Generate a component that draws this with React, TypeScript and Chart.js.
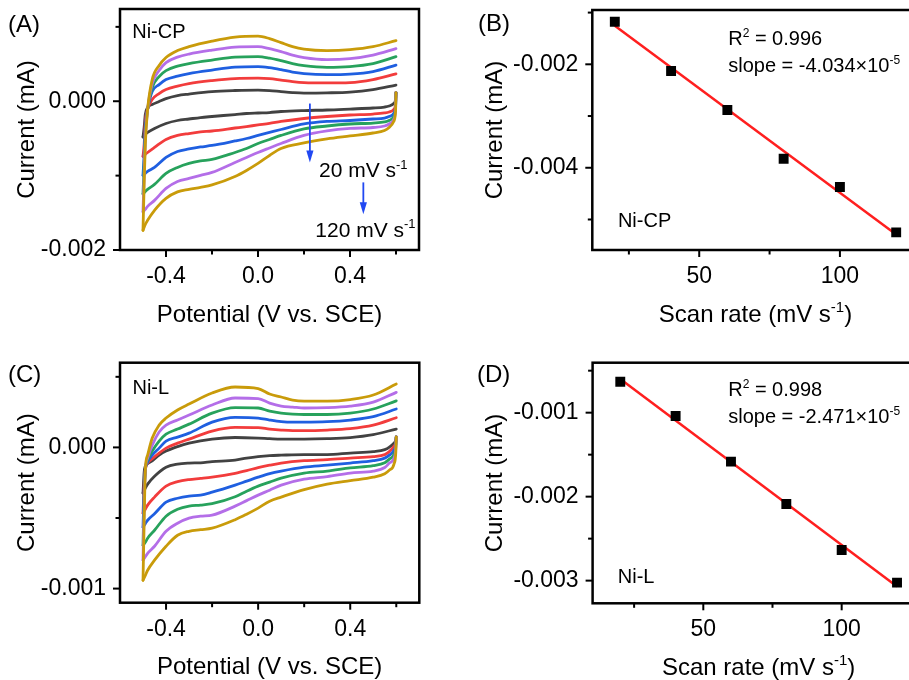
import React, { useEffect, useRef } from 'react';
import { Chart, registerables } from 'chart.js';

Chart.register(...registerables);

const FONT = "'Liberation Sans', Arial, Helvetica, sans-serif";

// ---------- Cyclic voltammograms (panels A and C) ----------
// Cathodic sweep runs from +0.6 V back to -0.5 V, anodic sweep from -0.5 V up to +0.6 V.
const cathodicPotential = [0.6, 0.598, 0.59, 0.57, 0.55, 0.5, 0.4, 0.3, 0.2, 0.1, 0.05, 0, -0.05, -0.1, -0.2, -0.25, -0.3, -0.35, -0.4, -0.45, -0.48, -0.49, -0.5];
const anodicPotential = [-0.495, -0.49, -0.48, -0.46, -0.43, -0.4, -0.35, -0.3, -0.2, -0.1, 0, 0.05, 0.1, 0.15, 0.2, 0.3, 0.4, 0.5, 0.6];

const cvScanRates = ['20', '40', '60', '80', '100', '120'];
const cvColors = ['#424242', '#f23c3c', '#1f5fe0', '#27a25c', '#b46ee8', '#c99b0a'];

// Ni-CP current (mA), one row per scan rate
const niCpCathodic = [
  [0.000117, 0.000023, -0.000031, -0.000064, -0.000078, -0.000091, -0.000105, -0.000118, -0.000125, -0.000138, -0.000152, -0.000158, -0.000165, -0.000179, -0.000205, -0.000219, -0.000239, -0.000259, -0.000299, -0.000366, -0.00042, -0.000447, -0.000481],
  [0.000117, -0.000031, -0.000111, -0.000145, -0.000158, -0.000172, -0.000185, -0.000205, -0.000232, -0.000272, -0.000299, -0.000319, -0.00034, -0.00036, -0.0004, -0.000413, -0.000434, -0.00046, -0.000514, -0.000621, -0.000689, -0.000715, -0.000742],
  [0.000117, -0.000058, -0.000165, -0.000205, -0.000226, -0.000239, -0.000259, -0.000272, -0.000306, -0.00038, -0.00042, -0.00046, -0.000501, -0.000534, -0.000595, -0.000615, -0.000642, -0.000675, -0.000756, -0.00089, -0.000944, -0.00097, -0.000997],
  [0.000117, -0.000085, -0.000205, -0.000259, -0.000279, -0.000293, -0.000306, -0.000333, -0.000373, -0.00046, -0.000514, -0.000568, -0.000635, -0.000689, -0.000783, -0.000803, -0.000836, -0.00089, -0.00097, -0.001118, -0.001185, -0.001212, -0.001246],
  [0.000117, -0.000111, -0.000246, -0.000306, -0.000333, -0.000353, -0.000366, -0.0004, -0.00046, -0.000568, -0.000628, -0.000689, -0.000756, -0.000823, -0.000957, -0.000997, -0.001038, -0.001078, -0.001172, -0.001333, -0.001413, -0.001454, -0.001487],
  [0.000117, -0.000138, -0.000272, -0.000353, -0.000393, -0.000427, -0.000467, -0.000507, -0.000561, -0.000635, -0.000729, -0.000836, -0.00093, -0.001011, -0.001125, -0.001158, -0.001185, -0.001219, -0.001306, -0.001467, -0.001601, -0.001655, -0.001736],
];
const niCpAnodic = [
  [-0.000353, -0.000179, -0.000085, -0.000044, -0.000004, 0.000036, 0.000077, 0.000097, 0.00013, 0.000144, 0.00015, 0.000144, 0.00013, 0.000117, 0.00011, 0.000113, 0.000123, 0.000157, 0.000217],
  [-0.000581, -0.000272, -0.000111, 0.000023, 0.000103, 0.000157, 0.000204, 0.000238, 0.000278, 0.000305, 0.000311, 0.000305, 0.000285, 0.000264, 0.000251, 0.000247, 0.000251, 0.000291, 0.000368],
  [-0.000715, -0.000353, -0.000111, 0.00013, 0.000224, 0.000291, 0.000338, 0.000372, 0.000419, 0.000459, 0.000466, 0.000452, 0.000425, 0.000392, 0.000372, 0.000358, 0.000365, 0.000399, 0.000486],
  [-0.00085, -0.000447, -0.000111, 0.000184, 0.000332, 0.000412, 0.000472, 0.000506, 0.000553, 0.000593, 0.0006, 0.00058, 0.000546, 0.000506, 0.000479, 0.000456, 0.000466, 0.000506, 0.0006],
  [-0.000984, -0.000514, -0.000111, 0.000238, 0.000412, 0.000519, 0.000593, 0.000634, 0.000687, 0.000728, 0.000734, 0.000707, 0.000667, 0.00062, 0.000587, 0.00056, 0.000573, 0.00062, 0.000707],
  [-0.001118, -0.000581, -0.000111, 0.000291, 0.000479, 0.000587, 0.000681, 0.000734, 0.000808, 0.000862, 0.000875, 0.000842, 0.000788, 0.000734, 0.000701, 0.000681, 0.000694, 0.000734, 0.000815],
];

// Ni-L current (mA), one row per scan rate
const niLCathodic = [
  [0.000075, 0.000052, 0.00003, 0.000002, -0.000016, -0.00003, -0.00004, -0.000051, -0.000051, -0.000055, -0.000058, -0.000065, -0.000076, -0.00009, -0.000101, -0.000109, -0.000111, -0.000118, -0.00014, -0.000204, -0.00026, -0.000289, -0.000324],
  [0.000075, 0.000038, 0.000009, -0.00003, -0.000051, -0.000065, -0.000076, -0.000087, -0.000094, -0.000111, -0.000126, -0.000143, -0.000165, -0.000184, -0.000211, -0.00022, -0.000228, -0.000243, -0.000274, -0.000352, -0.000409, -0.000438, -0.000466],
  [0.000075, 0.000023, -0.000019, -0.000055, -0.000076, -0.000094, -0.000111, -0.000126, -0.00014, -0.000168, -0.000186, -0.000211, -0.000239, -0.000267, -0.000317, -0.000338, -0.000345, -0.00036, -0.000388, -0.00047, -0.000516, -0.00054, -0.000565],
  [0.000075, 0.000009, -0.000048, -0.000083, -0.000108, -0.000129, -0.000145, -0.000168, -0.000182, -0.000218, -0.000246, -0.000274, -0.00031, -0.00035, -0.000399, -0.000409, -0.000416, -0.000438, -0.000487, -0.000587, -0.000643, -0.000672, -0.000693],
  [0.000075, -0.000005, -0.000076, -0.000111, -0.000142, -0.000168, -0.000182, -0.000207, -0.000225, -0.000267, -0.000303, -0.000338, -0.000377, -0.000416, -0.00048, -0.000487, -0.000501, -0.000537, -0.000594, -0.0007, -0.00075, -0.000774, -0.000799],
  [0.000075, -0.000033, -0.000118, -0.000161, -0.000186, -0.000211, -0.000235, -0.00026, -0.000299, -0.000352, -0.000381, -0.00043, -0.000473, -0.000512, -0.000572, -0.000583, -0.000594, -0.000622, -0.0007, -0.000799, -0.00087, -0.000906, -0.000941],
];
const niLAnodic = [
  [-0.000175, -0.000133, -0.000115, -0.000095, -0.000055, -0.000026, 0.000006, 0.00003, 0.000059, 0.00007, 0.000066, 0.000062, 0.000059, 0.000059, 0.000059, 0.000062, 0.00007, 0.000091, 0.00013],
  [-0.000267, -0.000161, -0.000111, -0.00008, -0.00004, -0.000005, 0.00003, 0.000059, 0.000116, 0.000142, 0.00014, 0.00013, 0.000123, 0.000119, 0.000119, 0.000123, 0.000133, 0.000158, 0.00021],
  [-0.000303, -0.000161, -0.000104, -0.000055, -0.000005, 0.000045, 0.000073, 0.000101, 0.000179, 0.000213, 0.000208, 0.000194, 0.000183, 0.000179, 0.000179, 0.000182, 0.000194, 0.000218, 0.000272],
  [-0.000338, -0.000161, -0.00009, -0.000026, 0.000045, 0.000094, 0.00013, 0.000165, 0.000243, 0.000282, 0.000279, 0.000257, 0.000243, 0.000236, 0.000233, 0.000233, 0.000243, 0.000272, 0.00033],
  [-0.000409, -0.000161, -0.000076, 0.000016, 0.000109, 0.000158, 0.000194, 0.000229, 0.0003, 0.00035, 0.000346, 0.000314, 0.000293, 0.000286, 0.000279, 0.000282, 0.000293, 0.000321, 0.00039],
  [-0.000516, -0.000161, -0.000055, 0.000066, 0.000158, 0.000208, 0.000265, 0.000307, 0.000385, 0.000428, 0.000417, 0.000378, 0.000357, 0.000335, 0.000328, 0.000328, 0.000339, 0.000371, 0.000449],
];

// ---------- Current vs. scan rate (panels B and D) ----------
const scanRate = [20, 40, 60, 80, 100, 120];
const niCpCurrent = [-0.001176, -0.00213, -0.002884, -0.003826, -0.004373, -0.00525];
const niLCurrent = [-0.000631, -0.00104, -0.001583, -0.002087, -0.002635, -0.003024];
const niCpSlope = -4.034e-5;
const niLSlope = -2.471e-5;
const niCpR2 = '0.996';
const niLR2 = '0.998';

// ---------- drawing helpers ----------
type Seg = { t: string; sup?: boolean };
type Note = { x: number; y: number; segs: Seg[]; size: number };
type Arrow = { x: number; from: number; to: number };
interface Deco {
  tag: string; tagLeft: number; tagMid: number;
  xTitle: Seg[]; yTitle: string; xTitleGap: number; yTitleGap: number;
  xMajor: number[]; xMinor: number[]; yMajor: number[]; yMinor: number[];
  notes: Note[]; arrows: Arrow[];
}

function drawSegs(ctx: CanvasRenderingContext2D, segs: Seg[], x: number, midY: number, size: number, align: 'left' | 'center') {
  const supSize = Math.round(size * 0.62);
  const widths = segs.map((s) => {
    ctx.font = `${s.sup ? supSize : size}px ${FONT}`;
    return ctx.measureText(s.t).width;
  });
  const total = widths.reduce((a, b) => a + b, 0);
  let cx = align === 'center' ? x - total / 2 : x;
  const base = midY + size * 0.36;
  ctx.textAlign = 'left';
  ctx.textBaseline = 'alphabetic';
  segs.forEach((s, i) => {
    ctx.font = `${s.sup ? supSize : size}px ${FONT}`;
    ctx.fillText(s.t, cx, s.sup ? base - size * 0.4 : base);
    cx += widths[i];
  });
}

const ARROW_BLUE = '#2148f2';

function decoPlugin(d: Deco) {
  return {
    id: 'panelDeco',
    afterDatasetsDraw(chart: any) {
      const { ctx, chartArea: a } = chart;
      const sx = chart.scales.x;
      const sy = chart.scales.y;
      ctx.save();
      ctx.fillStyle = '#000';
      d.notes.forEach((n) => drawSegs(ctx, n.segs, sx.getPixelForValue(n.x), sy.getPixelForValue(n.y), n.size, 'left'));

      ctx.strokeStyle = ARROW_BLUE;
      ctx.fillStyle = ARROW_BLUE;
      ctx.lineWidth = 1.8;
      d.arrows.forEach((ar) => {
        const px = sx.getPixelForValue(ar.x);
        const y0 = sy.getPixelForValue(ar.from);
        const y1 = sy.getPixelForValue(ar.to);
        ctx.beginPath();
        ctx.moveTo(px, y0);
        ctx.lineTo(px, y1 - 8);
        ctx.stroke();
        ctx.beginPath();
        ctx.moveTo(px, y1);
        ctx.lineTo(px - 3.6, y1 - 12);
        ctx.lineTo(px + 3.6, y1 - 12);
        ctx.closePath();
        ctx.fill();
      });

      // plot frame and outward tick marks
      ctx.strokeStyle = '#000';
      ctx.lineWidth = 2.5;
      ctx.strokeRect(a.left, a.top, a.right - a.left, a.bottom - a.top);
      ctx.lineWidth = 2;
      const seg = (x1: number, y1: number, x2: number, y2: number) => {
        ctx.beginPath();
        ctx.moveTo(x1, y1);
        ctx.lineTo(x2, y2);
        ctx.stroke();
      };
      d.xMajor.forEach((v) => { const p = sx.getPixelForValue(v); seg(p, a.bottom, p, a.bottom + 7); });
      d.xMinor.forEach((v) => { const p = sx.getPixelForValue(v); seg(p, a.bottom, p, a.bottom + 4.5); });
      d.yMajor.forEach((v) => { const p = sy.getPixelForValue(v); seg(a.left, p, a.left - 7, p); });
      d.yMinor.forEach((v) => { const p = sy.getPixelForValue(v); seg(a.left, p, a.left - 4.5, p); });

      // axis titles
      ctx.fillStyle = '#000';
      drawSegs(ctx, d.xTitle, (a.left + a.right) / 2, a.bottom + d.xTitleGap, 24, 'center');
      ctx.save();
      ctx.translate(a.left - d.yTitleGap, (a.top + a.bottom) / 2);
      ctx.rotate(-Math.PI / 2);
      drawSegs(ctx, [{ t: d.yTitle }], 0, 0, 24, 'center');
      ctx.restore();

      // panel tag
      drawSegs(ctx, [{ t: d.tag }], d.tagLeft, d.tagMid, 24, 'left');
      ctx.restore();
    },
  };
}

interface PanelSpec {
  w: number; h: number;
  box: { left: number; top: number; right: number; bottom: number };
  xMin: number; xMax: number; yMin: number; yMax: number;
  xDigits: number; yDigits: number;
  datasets: any[];
  deco: Deco;
}

function noPad(s: any) {
  s.paddingTop = 0;
  s.paddingBottom = 0;
  s.paddingLeft = 0;
  s.paddingRight = 0;
}

function makeChart(canvas: HTMLCanvasElement, p: PanelSpec) {
  const tickFont = { family: FONT, size: 23 };
  return new Chart(canvas, {
    type: 'scatter',
    data: { datasets: p.datasets },
    options: {
      responsive: false,
      animation: false,
      devicePixelRatio: 1,
      events: [],
      layout: { padding: { left: 0, top: p.box.top, right: p.w - p.box.right, bottom: 0 } },
      plugins: { legend: { display: false }, tooltip: { enabled: false } },
      scales: {
        x: {
          type: 'linear',
          min: p.xMin,
          max: p.xMax,
          afterBuildTicks: (s: any) => { s.ticks = p.deco.xMajor.map((v) => ({ value: v })); },
          afterFit: (s: any) => { s.height = p.h - p.box.bottom; noPad(s); },
          grid: { display: false, drawTicks: false },
          border: { display: false },
          ticks: {
            autoSkip: false, maxRotation: 0, padding: 13, color: '#000', font: tickFont,
            callback: (v: any) => Number(v).toFixed(p.xDigits),
          },
        },
        y: {
          type: 'linear',
          min: p.yMin,
          max: p.yMax,
          afterBuildTicks: (s: any) => { s.ticks = p.deco.yMajor.map((v) => ({ value: v })); },
          afterFit: (s: any) => { s.width = p.box.left; noPad(s); },
          grid: { display: false, drawTicks: false },
          border: { display: false },
          ticks: {
            autoSkip: false, padding: 14, color: '#000', font: tickFont,
            callback: (v: any) => Number(v).toFixed(p.yDigits),
          },
        },
      },
    } as any,
    plugins: [decoPlugin(p.deco)],
  });
}

// Each voltammogram is drawn as two smooth sweeps; the anodic sweep starts
// from the last cathodic point so the loop stays joined at -0.5 V.
function cvDatasets(cathodic: number[][], anodic: number[][]) {
  const out: any[] = [];
  cvColors.forEach((color, i) => {
    const back = cathodicPotential.map((x, j) => ({ x, y: cathodic[i][j] }));
    const fwd = [back[back.length - 1], ...anodicPotential.map((x, j) => ({ x, y: anodic[i][j] }))];
    const style = {
      showLine: true,
      borderColor: color,
      borderWidth: 2.8,
      pointRadius: 0,
      cubicInterpolationMode: 'monotone',
      fill: false,
      borderCapStyle: 'round',
      borderJoinStyle: 'round',
    };
    out.push({ label: `${cvScanRates[i]} mV/s cathodic`, data: back, ...style });
    out.push({ label: `${cvScanRates[i]} mV/s anodic`, data: fwd, ...style });
  });
  return out.reverse();
}

const mean = (v: number[]) => v.reduce((a, b) => a + b, 0) / v.length;

function fitDatasets(rates: number[], currents: number[], slope: number) {
  const mx = mean(rates);
  const my = mean(currents);
  const ends = [rates[0], rates[rates.length - 1]];
  return [
    {
      label: 'measured',
      data: rates.map((x, i) => ({ x, y: currents[i] })),
      pointStyle: 'rect',
      pointRadius: 7,
      pointBackgroundColor: '#000',
      pointBorderColor: '#000',
      pointBorderWidth: 0,
      showLine: false,
    },
    {
      label: 'linear fit',
      data: ends.map((x) => ({ x, y: my + slope * (x - mx) })),
      showLine: true,
      borderColor: '#ff1f1f',
      borderWidth: 2.5,
      pointRadius: 0,
    },
  ];
}

const slopeSegs = (slope: number): Seg[] => [
  { t: `slope = ${(slope / 1e-5).toFixed(3)}\u00d710` },
  { t: '-5', sup: true },
];

const cvXTitle: Seg[] = [{ t: 'Potential (V vs. SCE)' }];
const rateXTitle: Seg[] = [{ t: 'Scan rate (mV s' }, { t: '-1', sup: true }, { t: ')' }];

const panelA: PanelSpec = {
  w: 455, h: 340,
  box: { left: 120, top: 9, right: 419, bottom: 250 },
  xMin: -0.6, xMax: 0.7, yMin: -0.002, yMax: 0.00124,
  xDigits: 1, yDigits: 3,
  datasets: cvDatasets(niCpCathodic, niCpAnodic),
  deco: {
    tag: '(A)', tagLeft: 8, tagMid: 23,
    xTitle: cvXTitle, yTitle: 'Current (mA)', xTitleGap: 63, yTitleGap: 95,
    xMajor: [-0.4, 0, 0.4], xMinor: [-0.2, 0.2, 0.6],
    yMajor: [0, -0.002], yMinor: [0.001, -0.001],
    notes: [
      { x: -0.547, y: 0.000953, segs: [{ t: 'Ni-CP' }], size: 20 },
      { x: 0.265, y: -0.000917, segs: [{ t: '20 mV s' }, { t: '-1', sup: true }], size: 21 },
      { x: 0.249, y: -0.001722, segs: [{ t: '120 mV s' }, { t: '-1', sup: true }], size: 21 },
    ],
    arrows: [
      { x: 0.2256, from: -0.000031, to: -0.000823 },
      { x: 0.458, from: -0.001091, to: -0.001521 },
    ],
  },
};

const panelB: PanelSpec = {
  w: 490, h: 340,
  box: { left: 137.3, top: 10, right: 463.7, bottom: 250 },
  xMin: 12, xMax: 128, yMin: -0.00559, yMax: -0.00095,
  xDigits: 0, yDigits: 3,
  datasets: fitDatasets(scanRate, niCpCurrent, niCpSlope),
  deco: {
    tag: '(B)', tagLeft: 23, tagMid: 22,
    xTitle: rateXTitle, yTitle: 'Current (mA)', xTitleGap: 63, yTitleGap: 99,
    xMajor: [50, 100], xMinor: [25, 75],
    yMajor: [-0.002, -0.004], yMinor: [-0.001, -0.003, -0.005],
    notes: [
      { x: 60.3, y: -0.001486, segs: [{ t: 'R' }, { t: '2', sup: true }, { t: ` = ${niCpR2}` }], size: 20 },
      { x: 60.3, y: -0.002014, segs: slopeSegs(niCpSlope), size: 20 },
      { x: 21.1, y: -0.005012, segs: [{ t: 'Ni-CP' }], size: 20 },
    ],
    arrows: [],
  },
};

const panelC: PanelSpec = {
  w: 455, h: 340,
  box: { left: 120, top: 22.7, right: 419.3, bottom: 262.7 },
  xMin: -0.6, xMax: 0.7, yMin: -0.0011, yMax: 0.0006,
  xDigits: 1, yDigits: 3,
  datasets: cvDatasets(niLCathodic, niLAnodic),
  deco: {
    tag: '(C)', tagLeft: 8, tagMid: 33,
    xTitle: cvXTitle, yTitle: 'Current (mA)', xTitleGap: 63, yTitleGap: 95,
    xMajor: [-0.4, 0, 0.4], xMinor: [-0.2, 0.2, 0.6],
    yMajor: [0, -0.001], yMinor: [0.0005, -0.0005],
    notes: [{ x: -0.546, y: 0.00043, segs: [{ t: 'Ni-L' }], size: 20 }],
    arrows: [],
  },
};

const panelD: PanelSpec = {
  w: 490, h: 340,
  box: { left: 137.6, top: 22.7, right: 469.7, bottom: 263.3 },
  xMin: 10, xMax: 130, yMin: -0.00327, yMax: -0.000405,
  xDigits: 0, yDigits: 3,
  datasets: fitDatasets(scanRate, niLCurrent, niLSlope),
  deco: {
    tag: '(D)', tagLeft: 22, tagMid: 33,
    xTitle: rateXTitle, yTitle: 'Current (mA)', xTitleGap: 63, yTitleGap: 99,
    xMajor: [50, 100], xMinor: [25, 75],
    yMajor: [-0.001, -0.002, -0.003], yMinor: [-0.0005, -0.0015, -0.0025],
    notes: [
      { x: 59, y: -0.000721, segs: [{ t: 'R' }, { t: '2', sup: true }, { t: ` = ${niLR2}` }], size: 20 },
      { x: 59, y: -0.00104, segs: slopeSegs(niLSlope), size: 20 },
      { x: 19.1, y: -0.002944, segs: [{ t: 'Ni-L' }], size: 20 },
    ],
    arrows: [],
  },
};

const layoutSlots = [
  { spec: panelA, left: 0, top: 0 },
  { spec: panelB, left: 455, top: 0 },
  { spec: panelC, left: 0, top: 340 },
  { spec: panelD, left: 455, top: 340 },
];

export default function App() {
  const refs = [useRef<HTMLCanvasElement>(null), useRef<HTMLCanvasElement>(null), useRef<HTMLCanvasElement>(null), useRef<HTMLCanvasElement>(null)];

  useEffect(() => {
    const charts = layoutSlots.map((slot, i) => makeChart(refs[i].current as HTMLCanvasElement, slot.spec));
    return () => charts.forEach((c) => c.destroy());
  }, []);

  return (
    <div style={{ position: 'fixed', left: 0, top: 0, width: 909, height: 680, overflow: 'hidden', background: '#fff' }}>
      {layoutSlots.map((slot, i) => (
        <canvas
          key={i}
          ref={refs[i]}
          width={slot.spec.w}
          height={slot.spec.h}
          style={{ position: 'absolute', left: slot.left, top: slot.top, width: slot.spec.w, height: slot.spec.h }}
        />
      ))}
    </div>
  );
}
